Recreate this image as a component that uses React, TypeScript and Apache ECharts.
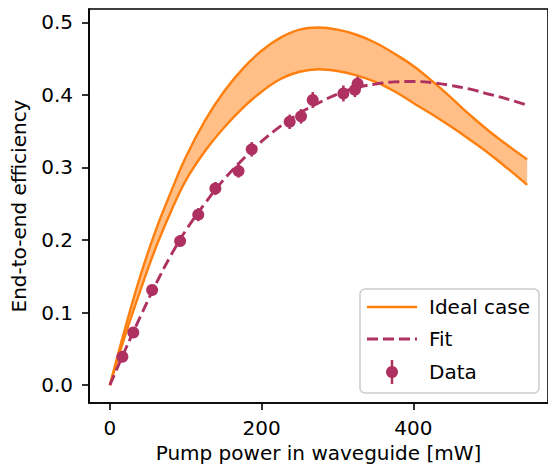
import React, { useEffect, useRef } from "react";
import * as echarts from "echarts";

// Pump power grid (mW) for the model curves
const powerGrid = [0, 20, 40, 60, 80, 100, 125, 150, 175, 200, 225, 250, 275, 300, 325, 350, 375, 400, 425, 450, 475, 500, 525, 550];
// Ideal case band: upper and lower edges
const idealUpper = [0, 0.078, 0.15, 0.212, 0.265, 0.314, 0.364, 0.404, 0.436, 0.461, 0.479, 0.49, 0.493, 0.49, 0.483, 0.472, 0.457, 0.44, 0.419, 0.396, 0.372, 0.35, 0.33, 0.311];
const idealLower = [0, 0.068, 0.13, 0.188, 0.238, 0.282, 0.322, 0.3545, 0.382, 0.4045, 0.422, 0.432, 0.4355, 0.433, 0.427, 0.418, 0.405, 0.389, 0.373, 0.356, 0.338, 0.319, 0.298, 0.276];
// Fit curve
const fitValues = [0, 0.048, 0.094, 0.138, 0.178, 0.213, 0.25, 0.283, 0.311, 0.336, 0.357, 0.375, 0.389, 0.401, 0.41, 0.415, 0.418, 0.4185, 0.417, 0.413, 0.408, 0.401, 0.394, 0.386];
// Measured data
const dataPower = [16.5, 30.9, 55.7, 92.6, 116.5, 139.1, 169.6, 187, 237, 252, 267.4, 307.8, 323, 326.5];
const dataEff = [0.039, 0.0725, 0.131, 0.1985, 0.235, 0.271, 0.295, 0.325, 0.363, 0.3705, 0.393, 0.402, 0.407, 0.4154];
const dataErr = [0.005, 0.006, 0.007, 0.008, 0.009, 0.009, 0.009, 0.01, 0.01, 0.01, 0.011, 0.011, 0.01, 0.01];
// Tick labels
const xTicks = [0, 200, 400];
const yTicks = [0, 0.1, 0.2, 0.3, 0.4, 0.5];

const ORANGE = "#ff7f0e";
const BAND = "#ffbf86";
const MAROON = "#ae3162";
const FONT = "DejaVu Sans";
const SMOOTH = 0.4;

// Same bezier smoothing scheme as the line series, so the band edges follow the lines
function bezierSegments(pts: number[][], smooth: number): string {
  let d = "";
  let cpx0 = pts[0][0];
  let cpy0 = pts[0][1];
  let prevX = pts[0][0];
  let prevY = pts[0][1];
  for (let i = 1; i < pts.length; i++) {
    const x = pts[i][0];
    const y = pts[i][1];
    let cpx1: number, cpy1: number;
    let nextCpx0 = x;
    let nextCpy0 = y;
    if (i === pts.length - 1) {
      cpx1 = x;
      cpy1 = y;
    } else {
      const nextX = pts[i + 1][0];
      const nextY = pts[i + 1][1];
      let vx = nextX - prevX;
      let vy = nextY - prevY;
      const lenPrev = Math.hypot(x - prevX, y - prevY);
      const lenNext = Math.hypot(nextX - x, nextY - y);
      const ratio = lenNext / (lenNext + lenPrev);
      nextCpx0 = x + vx * smooth * ratio;
      nextCpy0 = y + vy * smooth * ratio;
      nextCpx0 = Math.min(nextCpx0, Math.max(nextX, x));
      nextCpy0 = Math.min(nextCpy0, Math.max(nextY, y));
      nextCpx0 = Math.max(nextCpx0, Math.min(nextX, x));
      nextCpy0 = Math.max(nextCpy0, Math.min(nextY, y));
      vx = nextCpx0 - x;
      vy = nextCpy0 - y;
      cpx1 = x - (vx * lenPrev) / lenNext;
      cpy1 = y - (vy * lenPrev) / lenNext;
      cpx1 = Math.min(cpx1, Math.max(prevX, x));
      cpy1 = Math.min(cpy1, Math.max(prevY, y));
      cpx1 = Math.max(cpx1, Math.min(prevX, x));
      cpy1 = Math.max(cpy1, Math.min(prevY, y));
      vx = x - cpx1;
      vy = y - cpy1;
      nextCpx0 = x + (vx * lenNext) / lenPrev;
      nextCpy0 = y + (vy * lenNext) / lenPrev;
    }
    d += ` C ${cpx0} ${cpy0} ${cpx1} ${cpy1} ${x} ${y}`;
    cpx0 = nextCpx0;
    cpy0 = nextCpy0;
    prevX = x;
    prevY = y;
  }
  return d;
}

export default function App() {
  const ref = useRef<HTMLDivElement>(null);
  useEffect(() => {
    const chart = echarts.init(ref.current!, null, { renderer: "svg" });
    const pairs = (ys: number[]) => powerGrid.map((x, i) => [x, ys[i]]);
    const option: any = {
      animation: false,
      textStyle: { fontFamily: FONT, color: "#000" },
      grid: {
        left: 89,
        top: 9,
        width: 463,
        height: 395,
        show: true,
        borderColor: "#000",
        borderWidth: 1.6,
        backgroundColor: "rgba(0,0,0,0)",
      },
      xAxis: {
        type: "value",
        min: -27.5,
        max: 577.5,
        name: "Pump power in waveguide [mW]",
        nameLocation: "middle",
        nameGap: 40,
        nameTextStyle: { fontSize: 20, color: "#000", fontFamily: FONT },
        axisLine: { show: true, onZero: false, lineStyle: { color: "#000", width: 1.6 } },
        axisTick: { show: true, length: 7, lineStyle: { color: "#000", width: 1.6 }, customValues: xTicks },
        axisLabel: { fontSize: 20, color: "#000", fontFamily: FONT, margin: 15, customValues: xTicks },
        splitLine: { show: false },
      },
      yAxis: {
        type: "value",
        min: -0.0247,
        max: 0.5185,
        name: "End-to-end efficiency",
        nameLocation: "middle",
        nameGap: 60,
        nameTextStyle: { fontSize: 20, color: "#000", fontFamily: FONT },
        axisLine: { show: true, onZero: false, lineStyle: { color: "#000", width: 1.6 } },
        axisTick: { show: true, length: 7, lineStyle: { color: "#000", width: 1.6 }, customValues: yTicks },
        axisLabel: {
          fontSize: 20,
          color: "#000",
          fontFamily: FONT,
          margin: 16,
          customValues: yTicks,
          formatter: (v: number) => v.toFixed(1),
        },
        splitLine: { show: false },
      },
      series: [
        {
          name: "Ideal case band",
          type: "custom",
          data: powerGrid.map((x, i) => [x, idealLower[i], idealUpper[i]]),
          encode: { x: 0, y: [1, 2] },
          silent: true,
          z: 1,
          renderItem: (params: any, api: any) => {
            if (params.dataIndex !== 0) return { type: "group", children: [] };
            const up = powerGrid.map((x, i) => api.coord([x, idealUpper[i]]));
            const lo = powerGrid.map((x, i) => api.coord([x, idealLower[i]])).reverse();
            const d =
              `M ${up[0][0]} ${up[0][1]}` +
              bezierSegments(up, SMOOTH) +
              ` L ${lo[0][0]} ${lo[0][1]}` +
              bezierSegments(lo, SMOOTH) +
              " Z";
            return {
              type: "path",
              shape: { pathData: d },
              style: { fill: BAND, stroke: "none" },
            };
          },
        },
        {
          name: "Ideal case",
          type: "line",
          data: pairs(idealUpper),
          smooth: SMOOTH,
          showSymbol: false,
          lineStyle: { color: ORANGE, width: 2.4 },
          itemStyle: { color: ORANGE },
          z: 3,
        },
        {
          name: "Ideal case (lower)",
          type: "line",
          data: pairs(idealLower),
          smooth: SMOOTH,
          showSymbol: false,
          lineStyle: { color: ORANGE, width: 2.4 },
          itemStyle: { color: ORANGE },
          z: 3,
        },
        {
          name: "Fit",
          type: "line",
          data: pairs(fitValues),
          smooth: SMOOTH,
          showSymbol: false,
          lineStyle: { color: MAROON, width: 2.9, type: [11, 5] },
          itemStyle: { color: MAROON },
          z: 4,
        },
        {
          name: "Data error",
          type: "custom",
          data: dataPower.map((x, i) => [x, dataEff[i], dataErr[i]]),
          encode: { x: 0, y: 1 },
          renderItem: (_params: any, api: any) => {
            const x = api.value(0);
            const y = api.value(1);
            const e = api.value(2);
            const p1 = api.coord([x, y - e]);
            const p2 = api.coord([x, y + e]);
            return {
              type: "line",
              shape: { x1: p1[0], y1: p1[1], x2: p2[0], y2: p2[1] },
              style: { stroke: MAROON, lineWidth: 2.5 },
            };
          },
          z: 5,
        },
        {
          name: "Data",
          type: "scatter",
          data: dataPower.map((x, i) => [x, dataEff[i]]),
          symbol: "circle",
          symbolSize: 12,
          itemStyle: { color: MAROON, opacity: 1 },
          z: 6,
        },
      ],
      graphic: [
        {
          type: "group",
          children: [
            {
              type: "rect",
              shape: { x: 360, y: 289, width: 179, height: 104, r: 5 },
              style: { fill: "rgba(255,255,255,0.8)", stroke: "#cccccc", lineWidth: 1.5 },
              z: 100,
            },
            {
              type: "line",
              shape: { x1: 367, y1: 307, x2: 417, y2: 307 },
              style: { stroke: ORANGE, lineWidth: 2.4 },
              z: 101,
            },
            {
              type: "line",
              shape: { x1: 367, y1: 339, x2: 417, y2: 339 },
              style: { stroke: MAROON, lineWidth: 2.9, lineDash: [11, 5] },
              z: 101,
            },
            {
              type: "line",
              shape: { x1: 392, y1: 360, x2: 392, y2: 384 },
              style: { stroke: MAROON, lineWidth: 2.5 },
              z: 101,
            },
            {
              type: "circle",
              shape: { cx: 392, cy: 372, r: 6 },
              style: { fill: MAROON },
              z: 101,
            },
            {
              type: "text",
              x: 429,
              y: 307,
              style: { text: "Ideal case", fontSize: 20, fontFamily: FONT, fill: "#000", verticalAlign: "middle", align: "left" },
              z: 101,
            },
            {
              type: "text",
              x: 429,
              y: 339,
              style: { text: "Fit", fontSize: 20, fontFamily: FONT, fill: "#000", verticalAlign: "middle", align: "left" },
              z: 101,
            },
            {
              type: "text",
              x: 429,
              y: 372,
              style: { text: "Data", fontSize: 20, fontFamily: FONT, fill: "#000", verticalAlign: "middle", align: "left" },
              z: 101,
            },
          ],
        },
      ],
    };
    chart.setOption(option);
    return () => chart.dispose();
  }, []);
  return (
    <div
      ref={ref}
      style={{ position: "absolute", left: 0, top: 0, width: 548, height: 468, background: "#fff" }}
    />
  );
}
